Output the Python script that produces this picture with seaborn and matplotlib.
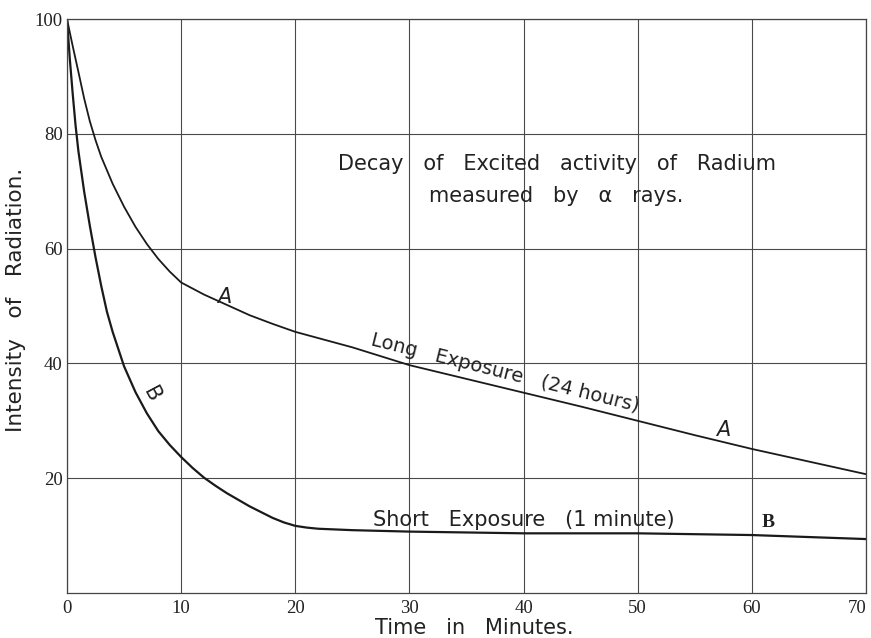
import matplotlib
matplotlib.use("Agg")
import pandas as pd
import seaborn as sns
import matplotlib.pyplot as plt

# curve A: long exposure (24 hours)
time_a = [0, 0.5, 1, 1.5, 2, 2.5, 3, 4, 5, 6, 7, 8, 9, 10, 12, 14, 16, 18, 20, 25, 30, 35,
          40, 45, 50, 55, 60, 65, 70]
intensity_a = [100, 95.3, 90.8, 86.2, 82.2, 78.9, 76, 71.3, 67.3, 63.8, 60.8, 58.2, 56, 54.1,
               52, 50.2, 48.4, 46.9, 45.5, 42.8, 39.7, 37.3, 34.9, 32.5, 30.0, 27.5, 25.1,
               22.9, 20.7]

# curve B: short exposure (1 minute)
time_b = [0, 0.25, 0.5, 0.75, 1, 1.5, 2, 2.5, 3, 3.5, 4, 5, 6, 7, 8, 9, 10, 11, 12, 13, 14,
          16, 18, 19, 20, 21, 22, 25, 30, 40, 50, 60, 70]
intensity_b = [100, 93, 87, 81.5, 77, 70, 64, 58.5, 53.5, 49, 45.5, 39.5, 35, 31.3, 28.2,
               25.8, 23.7, 21.8, 20.1, 18.7, 17.4, 15.1, 13.1, 12.3, 11.7, 11.4, 11.2, 10.95,
               10.7, 10.4, 10.4, 10.1, 9.4]

x_ticks = [0, 10, 20, 30, 40, 50, 60, 70]
x_tick_labels = ["0", "10", "20", "30", "40", "50", "60", "70"]
y_ticks = [20, 40, 60, 80, 100]
y_tick_labels = ["20", "40", "60", "80", "100"]

df_a = pd.DataFrame({"time": time_a, "intensity": intensity_a})
df_b = pd.DataFrame({"time": time_b, "intensity": intensity_b})

sns.set_style("white")
plt.rcParams["font.family"] = ["DejaVu Sans"]

fig = plt.figure(figsize=(8.71, 6.38), dpi=100)
ax = fig.add_axes([0.0769, 0.0705, 0.9174, 0.8997])

ink = "#1a1a1a"
sns.lineplot(data=df_a, x="time", y="intensity", ax=ax, color=ink, linewidth=1.3)
sns.lineplot(data=df_b, x="time", y="intensity", ax=ax, color=ink, linewidth=1.6)

ax.set_xlim(0, 70)
ax.set_ylim(0, 100)
ax.set_xticks(x_ticks)
ax.set_xticklabels(x_tick_labels, fontfamily="Liberation Serif")
ax.set_yticks(y_ticks)
ax.set_yticklabels(y_tick_labels, fontfamily="Liberation Serif")
ax.tick_params(length=0, labelsize=13.5, colors="#222222")
ax.tick_params(axis="x", pad=5)
ax.tick_params(axis="y", pad=3)
# last x label sits against the right edge of the page
ax.get_xticklabels()[-1].set_ha("right")
ax.grid(True, color="#4a4a4a", linewidth=0.8)
for spine in ax.spines.values():
    spine.set_color("#444444")
    spine.set_linewidth(0.9)

ax.set_xlabel("Time   in   Minutes.", fontsize=15, color="#222222")
ax.set_ylabel("Intensity   of   Radiation.", fontsize=15.5, color="#222222")
ax.xaxis.set_label_coords(0.51, -0.043)
ax.yaxis.set_label_coords(-0.051, 0.51)

txt = dict(color="#222222", fontsize=15)
ax.text(42.9, 74.7, "Decay   of   Excited   activity   of   Radium", ha="center", va="center", **txt)
ax.text(42.9, 69.1, "measured   by   \u03b1   rays.", ha="center", va="center", **txt)
ax.text(38.4, 38.3, "Long   Exposure   (24 hours)", ha="center", va="center", rotation=-14,
        color="#222222", fontsize=14)
ax.text(40.0, 12.7, "Short   Exposure   (1 minute)", ha="center", va="center", **txt)
ax.text(13.8, 51.5, "A", ha="center", va="center", style="italic", **txt)
ax.text(57.5, 28.4, "A", ha="center", va="center", style="italic", **txt)
ax.text(7.4, 34.6, "B", ha="center", va="center", rotation=-62, **txt)
ax.text(61.4, 12.2, "B", ha="center", va="center", fontfamily="Liberation Serif",
        fontweight="bold", color="#222222", fontsize=14)

fig.savefig("out.png", dpi=100)
